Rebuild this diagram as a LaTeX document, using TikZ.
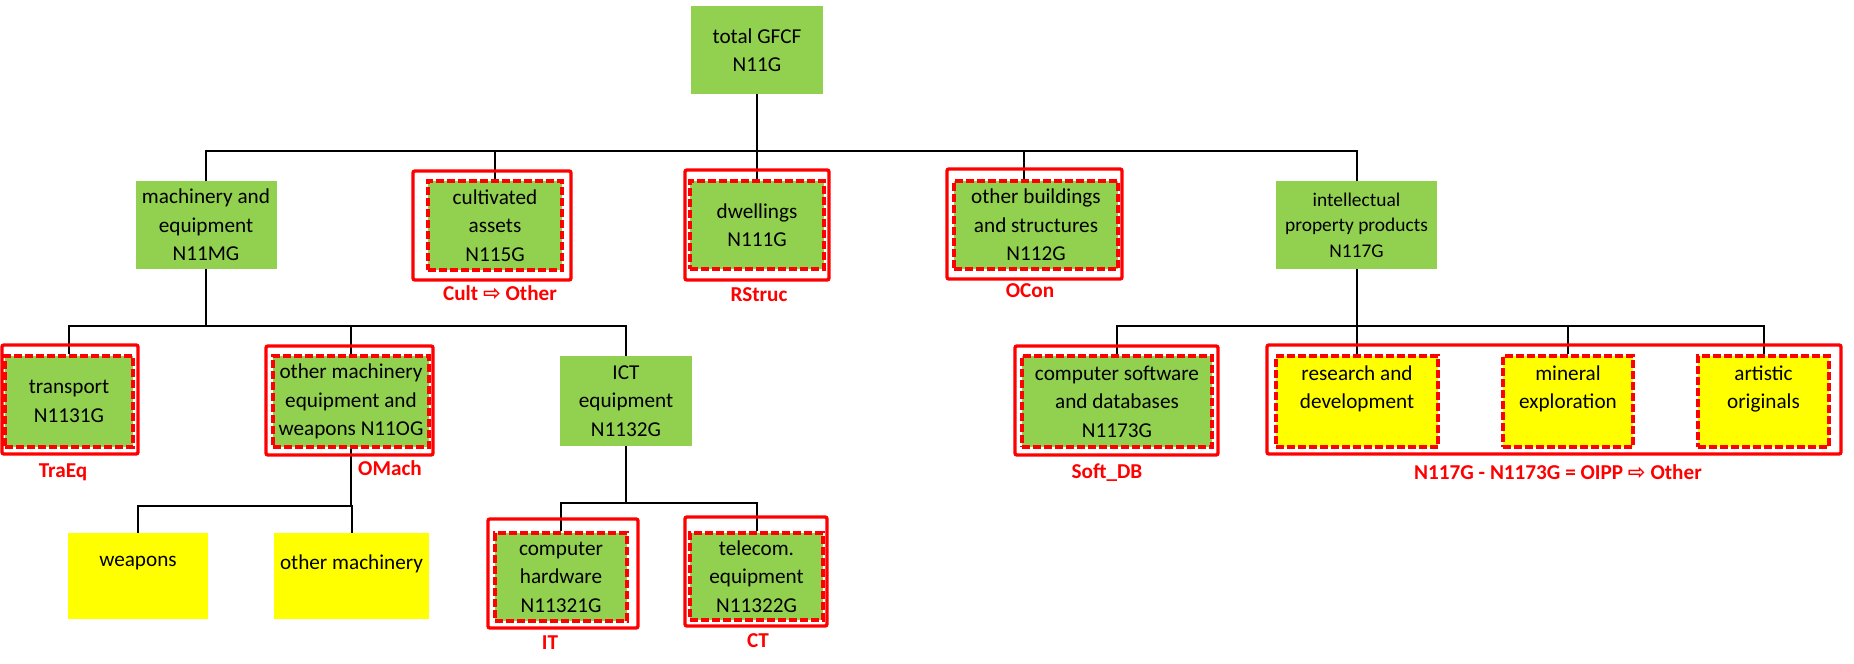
\documentclass[tikz,border=0pt]{standalone}
\usepackage{fontspec}
\setmainfont{Carlito}
\newfontfamily\arrowfont{DejaVu Sans}
\definecolor{catgreen}{HTML}{92D050}
\definecolor{partyellow}{HTML}{FFFF00}
\definecolor{selred}{HTML}{FF0000}
\newcommand{\boxfont}{\fontsize{10.6}{14.25}\selectfont}
\newcommand{\smallboxfont}{\fontsize{9.7}{12.75}\selectfont}
\newcommand{\tagfont}{\fontsize{10.6}{14.25}\selectfont\bfseries}
\newcommand{\goesto}{{\arrowfont ⇨}}
\tikzset{
  cat/.style={fill=catgreen, align=center, inner sep=0pt, font=\boxfont},
  part/.style={fill=partyellow, align=center, inner sep=0pt, font=\boxfont},
  hilite/.style={draw=selred, line width=1.6pt, dash pattern=on 4pt off 1.5pt,
    preaction={draw=white, line width=1.6pt}},
  redframe/.style={draw=selred, line width=1.7pt, rounded corners=1pt},
  tag/.style={text=selred, font=\tagfont, inner sep=0pt},
  link/.style={line width=1pt}
}
\begin{document}
\begin{tikzpicture}[x=0.5pt, y=-0.5pt]
    \useasboundingbox (0,0) rectangle (1854,664);
    % first level
    \node[cat, minimum width=66pt, minimum height=44pt] (root) at (757,50) {total GFCF\\N11G};
    \node[cat, minimum width=70.5pt, minimum height=44pt] (mach) at (206,225) {machinery and\\equipment\\N11MG};
    \node[cat, hilite, minimum width=67pt, minimum height=44.5pt] (cult) at (495,225.5) {cultivated\\assets\\N115G};
    \node[cat, hilite, minimum width=67pt, minimum height=44pt] (dwel) at (757,225) {dwellings\\N111G};
    \node[cat, hilite, minimum width=82pt, minimum height=44pt] (obs) at (1036,225) {other buildings\\and structures\\N112G};
    \node[cat, font=\smallboxfont, minimum width=80.5pt, minimum height=44pt] (ipp) at (1356.5,225) {intellectual\\property products\\N117G};
    % second level
    \node[cat, hilite, minimum width=64pt, minimum height=45.5pt] (trans) at (69,401.5) {transport\\N1131G};
    \node[cat, hilite, minimum width=78pt, minimum height=45.5pt] (omach) at (351,401.5) {other machinery\\equipment and\\weapons N11OG};
    \node[cat, minimum width=66pt, minimum height=45pt] (ict) at (626,401) {ICT\\equipment\\N1132G};
    \node[cat, hilite, minimum width=95pt, minimum height=45.5pt] (soft) at (1117,401.5) {computer software\\and databases\\N1173G};
    \node[part, hilite, minimum width=81pt, minimum height=45.5pt] (rd) at (1357,401.5) {research and\\development\\~};
    \node[part, hilite, minimum width=65pt, minimum height=45.5pt] (mine) at (1568,401.5) {mineral\\exploration\\~};
    \node[part, hilite, minimum width=65.5pt, minimum height=45.5pt] (art) at (1763.5,401.5) {artistic\\originals\\~};
    % third level
    \node[part, minimum width=70pt, minimum height=43pt] (weap) at (138,576) {weapons\\~};
    \node[part, minimum width=77.5pt, minimum height=43pt] (othm) at (351.5,576) {other machinery\\~};
    \node[cat, hilite, minimum width=66pt, minimum height=44pt] (hw) at (561,577) {computer\\hardware\\N11321G};
    \node[cat, hilite, minimum width=66.5pt, minimum height=43.5pt] (tel) at (756.5,576.5) {telecom.\\equipment\\N11322G};
    \coordinate (obsin) at ([xshift=-6pt]obs.north);
    \foreach \from/\to in
      {root/mach.north, root/cult.north, root/dwel.north, root/obsin, root/ipp.north,
       mach/trans.north, mach/omach.north, mach/ict.north,
       omach/weap.north, omach/othm.north, ict/hw.north, ict/tel.north,
       ipp/soft.north, ipp/rd.north, ipp/mine.north, ipp/art.north}
    \draw[link] (\from.south) -- ++(0,57) -| (\to);
    % groupings
    \draw[redframe] (413,171) rectangle (571,280);
    \draw[redframe] (685,170) rectangle (829,280);
    \draw[redframe] (947,169) rectangle (1122,279);
    \draw[redframe] (2,345) rectangle (138,454);
    \draw[redframe] (266,346) rectangle (433,455);
    \draw[redframe] (488,519) rectangle (638,628);
    \draw[redframe] (685,517) rectangle (827,626);
    \draw[redframe] (1015,346) rectangle (1218,455);
    \draw[redframe] (1267,345) rectangle (1841,454);
    \node[tag] (cultlbl) at (500,293) {Cult \goesto{} Other};
    \node[tag] (dwellbl) at (759,295) {RStruc};
    \node[tag] (obslbl) at (1030,291) {OCon};
    \node[tag] (translbl) at (63,472) {TraEq};
    \node[tag] (omachlbl) at (390,468) {OMach};
    \node[tag] (hwlbl) at (550,643) {IT};
    \node[tag] (tellbl) at (758,641) {CT};
    \node[tag] (softlbl) at (1107,473) {Soft\_DB};
    \node[tag] (oipplbl) at (1558,472) {N117G - N1173G = OIPP \goesto{} Other};
\end{tikzpicture}
\end{document}
